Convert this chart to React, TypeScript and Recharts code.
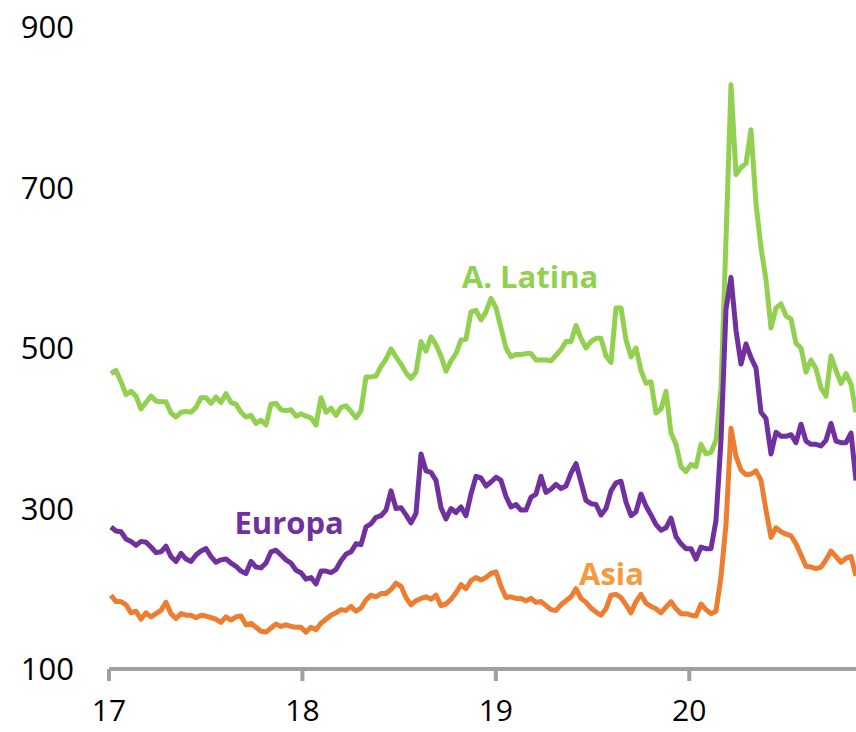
import { LineChart, Line, XAxis, YAxis, ReferenceDot } from 'recharts';

// Spreads in basis points, one reading roughly every 9-10 days from Jan 2017 to Nov 2020
const START = 2017.0103;
const STEP = 0.02585;

const A_LATINA = [
  468, 472, 458, 442, 446, 440, 424, 432, 440, 434,
  433, 433, 419, 414, 420, 421, 420, 426, 438, 438,
  431, 439, 432, 443, 432, 430, 420, 414, 416, 406,
  410, 404, 430, 431, 423, 422, 423, 415, 418, 415,
  413, 404, 438, 420, 425, 416, 426, 428, 421, 413,
  422, 464, 464, 465, 477, 486, 499, 489, 480, 469,
  462, 470, 508, 496, 514, 504, 490, 471, 484, 493,
  510, 511, 545, 547, 535, 545, 562, 550, 525, 500,
  489, 492, 492, 493, 493, 485, 485, 485, 484, 491,
  498, 508, 508, 528, 512, 500, 508, 512, 512, 490,
  482, 550, 550, 510, 489, 500, 472, 456, 458, 419,
  424, 446, 394, 380, 352, 346, 355, 352, 380, 368,
  370, 385, 450, 635, 828, 716, 725, 730, 772, 680,
  625, 585, 525, 550, 555, 540, 536, 506, 500, 470,
  485, 474, 450, 440, 490, 472, 456, 468, 455, 420,
];

const EUROPA = [
  277, 272, 271, 262, 259, 254, 259, 258, 252, 245,
  246, 253, 240, 234, 244, 237, 234, 242, 247, 250,
  240, 233, 236, 237, 232, 228, 222, 219, 234, 227,
  226, 232, 246, 248, 242, 236, 232, 223, 220, 212,
  214, 206, 222, 222, 220, 224, 235, 243, 246, 256,
  255, 277, 281, 289, 291, 298, 322, 300, 301, 292,
  282, 294, 368, 347, 345, 335, 301, 287, 300, 295,
  302, 291, 318, 340, 338, 328, 333, 339, 335, 315,
  302, 305, 298, 298, 314, 318, 340, 320, 324, 330,
  325, 328, 344, 356, 333, 310, 306, 305, 292, 300,
  322, 332, 334, 308, 291, 296, 318, 303, 292, 280,
  273, 276, 288, 265, 256, 250, 250, 237, 252, 250,
  250, 285, 385, 548, 588, 522, 480, 505, 488, 475,
  420, 412, 368, 395, 390, 390, 392, 382, 405, 384,
  380, 380, 378, 385, 406, 384, 382, 382, 394, 335,
];

const ASIA = [
  192, 184, 184, 180, 170, 172, 162, 170, 165, 169,
  173, 183, 169, 163, 169, 167, 167, 164, 167, 166,
  164, 162, 158, 165, 161, 165, 166, 155, 157, 152,
  147, 146, 151, 156, 153, 155, 153, 152, 152, 146,
  152, 149, 157, 162, 167, 170, 174, 173, 178, 172,
  176, 186, 192, 190, 194, 194, 199, 207, 203, 189,
  180, 185, 188, 190, 187, 192, 179, 181, 187, 195,
  205, 200, 210, 214, 211, 214, 219, 221, 203, 189,
  190, 188, 188, 185, 188, 183, 184, 179, 174, 173,
  180, 185, 190, 200, 188, 183, 176, 171, 167, 175,
  192, 193, 189, 180, 170, 184, 193, 182, 178, 175,
  170, 177, 184, 175, 169, 169, 167, 166, 181, 174,
  169, 172, 215, 280, 400, 365, 348, 342, 343, 347,
  335, 298, 264, 276, 271, 268, 266, 256, 242, 228,
  227, 225, 227, 236, 247, 240, 233, 238, 240, 216,
];

const X_TICKS = [2017, 2018, 2019, 2020];
const Y_TICKS = [100, 300, 500, 700, 900];

const GREEN = '#92D050';
const PURPLE = '#7030A0';
const ORANGE = '#ED7D31';
const FONT = '"Open Sans", Calibri, sans-serif';

const data = A_LATINA.map((v, i) => ({
  t: START + i * STEP,
  latina: v,
  europa: EUROPA[i],
  asia: ASIA[i],
}));

const lastT = START + (A_LATINA.length - 1) * STEP;

const seriesLabel = (text: string, color: string) => ({
  value: text,
  position: 'center' as const,
  fill: color,
  fontSize: 31,
  fontWeight: 700,
  fontFamily: FONT,
});

export default function App() {
  return (
    <div style={{ position: 'absolute', left: 0, top: 0 }}>
      <LineChart width={856} height={732} data={data} margin={{ top: 27, right: 0, bottom: 0, left: 0 }}>
        <XAxis
          dataKey="t"
          type="number"
          domain={[2017, lastT]}
          ticks={X_TICKS}
          tickFormatter={(v: number) => String(v - 2000)}
          height={63}
          axisLine={{ stroke: '#A0A0A0', strokeWidth: 4 }}
          tickLine={{ stroke: '#A0A0A0', strokeWidth: 4 }}
          tickSize={12}
          tickMargin={19}
          tick={{ fill: '#000', fontSize: 30, fontFamily: FONT }}
        />
        <YAxis
          type="number"
          domain={[100, 900]}
          ticks={Y_TICKS}
          width={109}
          axisLine={false}
          tickLine={false}
          tickSize={0}
          tickMargin={35}
          tick={{ fill: '#000', fontSize: 31, fontFamily: FONT }}
        />
        <Line dataKey="latina" stroke={GREEN} strokeWidth={5} dot={false} strokeLinejoin="round" isAnimationActive={false} />
        <Line dataKey="europa" stroke={PURPLE} strokeWidth={5} dot={false} strokeLinejoin="round" isAnimationActive={false} />
        <Line dataKey="asia" stroke={ORANGE} strokeWidth={5} dot={false} strokeLinejoin="round" isAnimationActive={false} />
        <ReferenceDot x={2019.177} y={589} r={0} label={seriesLabel('A. Latina', GREEN)} />
        <ReferenceDot x={2017.931} y={282} r={0} label={seriesLabel('Europa', PURPLE)} />
        <ReferenceDot x={2019.598} y={219} r={0} label={seriesLabel('Asia', '#F79A3E')} />
      </LineChart>
    </div>
  );
}
